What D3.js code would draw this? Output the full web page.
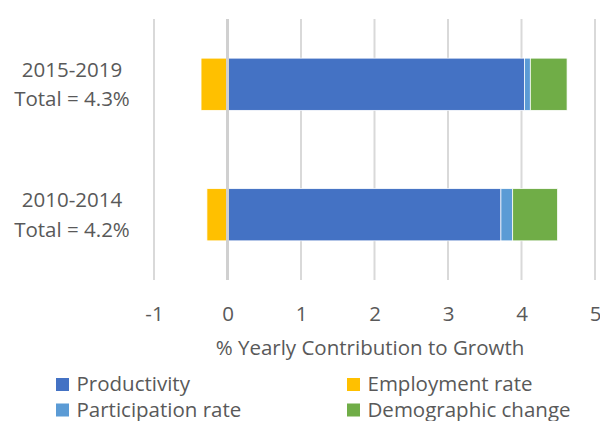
<!DOCTYPE html>
<html>
<head>
<meta charset="utf-8">
<script src="https://cdn.jsdelivr.net/npm/d3@7"></script>
<style>
  html, body { margin: 0; padding: 0; background: #fff; }
  svg text { font-family: "Open Sans", sans-serif; fill: #595959; }
</style>
</head>
<body>
<svg id="chart" width="600" height="421"></svg>
<script>
// Periods (top to bottom) and their stated totals
const periods = ["2015-2019", "2010-2014"];
const totals = ["4.3%", "4.2%"];

// Components of yearly growth, % per year
const productivity = [4.04, 3.72];
const participation = [0.08, 0.16];
const demographic = [0.50, 0.61];
const employment = [-0.36, -0.28];

const xTicks = [-1, 0, 1, 2, 3, 4, 5];

const seriesNames = ["Productivity", "Participation rate", "Demographic change", "Employment rate"];
const seriesColors = ["#4472C4", "#5B9BD5", "#70AD47", "#FFC000"];
const seriesValues = [productivity, participation, demographic, employment];

const FONT = "20.5px";
const svg = d3.select("#chart");
const plot = { left: 154, right: 595, top: 19, bottom: 280 };

const x = d3.scaleLinear().domain([-1, 5]).range([plot.left, plot.right]);
const y = d3.scaleBand().domain(periods).range([plot.top, plot.bottom]).paddingInner(0.6).paddingOuter(0.3);

// Vertical gridlines
svg.append("g").selectAll("line").data(xTicks.filter(d => d !== 0)).join("line")
  .attr("x1", d => x(d)).attr("x2", d => x(d))
  .attr("y1", plot.top).attr("y2", plot.bottom)
  .attr("stroke", "#d9d9d9").attr("stroke-width", 2);

// Stacked segments: positives stack to the right of zero, negatives to the left
const segs = [];
periods.forEach((p, i) => {
  let pos = 0, neg = 0;
  seriesValues.forEach((vals, k) => {
    const v = vals[i];
    let x0, x1;
    if (v >= 0) { x0 = pos; x1 = pos + v; pos = x1; }
    else { x1 = neg; x0 = neg + v; neg = x0; }
    segs.push({ period: p, x0, x1, color: seriesColors[k] });
  });
});

svg.append("g").selectAll("rect").data(segs).join("rect")
  .attr("x", d => x(d.x0))
  .attr("width", d => x(d.x1) - x(d.x0))
  .attr("y", d => y(d.period))
  .attr("height", y.bandwidth())
  .attr("fill", d => d.color)
  .attr("stroke", "#fff").attr("stroke-width", 0.75);

// Zero axis line on top of the bars
svg.append("line")
  .attr("x1", x(0)).attr("x2", x(0))
  .attr("y1", plot.top).attr("y2", plot.bottom)
  .attr("stroke", "#d0d0d0").attr("stroke-width", 3);

// Tick labels (plain hyphen for negatives)
const xAxis = d3.axisBottom(x).tickValues(xTicks).tickSize(0).tickPadding(0).tickFormat(d => String(d));
const gx = svg.append("g").attr("transform", `translate(0,${plot.bottom})`).call(xAxis);
gx.select(".domain").remove();
gx.selectAll("text")
  .attr("y", 40.5).attr("dy", null)
  .style("font-family", "'Open Sans', sans-serif")
  .style("font-size", FONT).style("fill", "#595959");

// Axis title
svg.append("text")
  .attr("x", 370).attr("y", 355)
  .attr("text-anchor", "middle")
  .style("font-size", FONT)
  .text("% Yearly Contribution to Growth");

// Category labels
const cat = svg.append("g").selectAll("g").data(periods).join("g")
  .attr("transform", d => `translate(72,${y(d) + y.bandwidth() / 2})`);
cat.append("text").attr("text-anchor", "middle").attr("y", -7.5).style("font-size", FONT).text(d => d);
cat.append("text").attr("text-anchor", "middle").attr("y", 21.8).style("font-size", FONT)
  .text((d, i) => `Total = ${totals[i]}`);

// Legend (two columns)
const legendItems = [
  { name: "Productivity", color: seriesColors[0], col: 0, row: 0 },
  { name: "Employment rate", color: seriesColors[3], col: 1, row: 0 },
  { name: "Participation rate", color: seriesColors[1], col: 0, row: 1 },
  { name: "Demographic change", color: seriesColors[2], col: 1, row: 1 }
];
const lg = svg.append("g").selectAll("g").data(legendItems).join("g")
  .attr("transform", d => `translate(${d.col === 0 ? 56 : 347},${378 + d.row * 25.5})`);
lg.append("rect").attr("width", 13).attr("height", 13).attr("fill", d => d.color);
lg.append("text").attr("x", 20.5).attr("y", 13).style("font-size", FONT).text(d => d.name);
</script>
</body>
</html>
